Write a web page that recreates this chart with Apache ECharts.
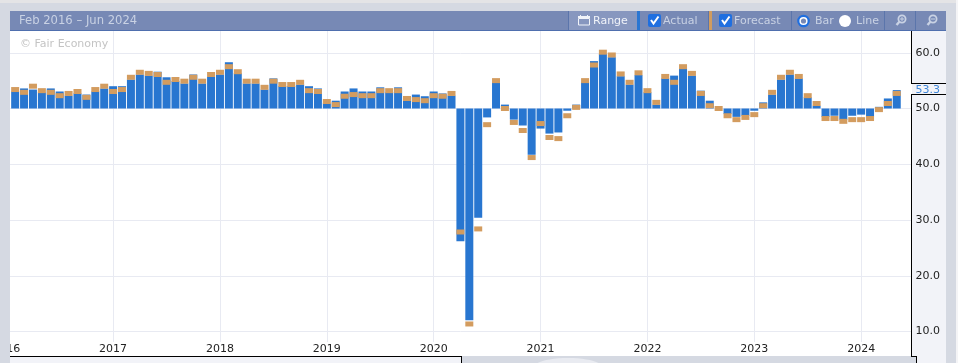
<!DOCTYPE html>
<html>
<head>
<meta charset="utf-8">
<style>html,body{margin:0;padding:0;background:#d5d9e2;overflow:hidden}#c{width:958px;height:363px}</style>
<script src="https://cdn.jsdelivr.net/npm/echarts@6/dist/echarts.min.js"></script>
</head>
<body>
<div id="c"></div>
<script>
const actual = [53.05,53.6,53.4,52.9,53.6,53.05,52.3,52.7,52.5,53.05,53.6,54.0,54.0,55.2,56.1,55.9,56.6,55.6,54.9,54.5,56.1,54.5,55.7,56.1,58.3,56.3,54.5,54.5,53.4,55.4,54.0,54.0,54.3,54.0,53.6,50.9,51.4,53.05,53.6,53.05,53.05,53.8,52.9,53.8,51.4,52.5,52.2,53.05,52.7,52.3,26.2,12.0,30.4,48.4,54.7,50.7,48.0,46.95,41.7,46.4,45.5,45.7,49.6,50.7,54.7,58.5,59.8,59.2,55.8,54.3,56.0,52.9,50.7,55.4,55.9,57.2,55.9,53.2,51.4,50.0,49.0,48.5,48.7,49.6,51.1,52.5,55.2,56.1,55.4,52.0,50.5,48.5,48.7,48.0,48.7,48.9,48.5,50.3,51.8,53.3];
const forecast = [53.4,52.9,54.0,53.2,52.9,52.3,52.7,53.05,52.0,53.4,54.0,53.05,53.4,55.6,56.5,56.3,56.1,54.7,55.2,54.9,55.6,54.9,56.1,56.5,57.5,56.6,54.9,54.9,53.8,54.9,54.3,54.3,54.7,53.2,53.05,51.25,50.7,52.2,52.5,52.3,52.3,53.2,53.2,53.2,51.8,51.6,51.4,52.3,52.2,52.7,27.85,11.35,28.4,47.1,55.0,50.0,47.5,46.05,41.2,47.3,44.8,44.6,48.7,50.2,55.0,57.8,60.1,59.6,56.2,54.7,56.4,53.2,51.1,55.75,54.7,57.5,56.3,52.7,50.5,50.0,48.7,48.0,48.4,48.9,50.5,52.9,55.6,56.5,55.75,52.3,50.9,48.2,48.2,47.7,48.0,48.0,48.2,49.8,50.9,52.7];
const yTicks = [10,20,30,40,50,60];
const latest = 53.3;
const baseline = 50;
const startYear = 2016;
const rangeLabel = 'Feb 2016 – Jun 2024';
const watermark = '© Fair Economy';
const FONT = '"DejaVu Sans", sans-serif';

const slots = 103;
const categories = [];
for (let i = 0; i < slots; i++) {
  const y = startYear + Math.floor(i / 12), m = i % 12 + 1;
  categories.push(y + '-' + String(m).padStart(2, '0'));
}
const pad = a => [null].concat(a, [null, null]);
const lower = pad(actual.map(v => Math.min(v, baseline)));
const delta = pad(actual.map(v => Math.abs(v - baseline)));
const isJan = (i, v) => v.endsWith('-01');

const GRAY = '#d5d9e2', LIGHT = '#f2f3f8', HEAD = '#7789b5', HTXT = '#c9d2e4', SEP = '#5b75ab';
const R = (x, y, w, h, fill, z) => ({type:'rect', silent:true, z:z||50, shape:{x,y,width:w,height:h}, style:{fill}});
const T = (x, y, text, fill, z, size) => ({type:'text', silent:true, z:z||70, x, y, style:{text, fill, font:(size||11)+'px ' + FONT, textVerticalAlign:'middle'}});
const check = (x) => [
  {type:'rect', silent:true, z:70, shape:{x, y:14, width:13, height:13, r:2}, style:{fill:'#1f6fe0'}},
  {type:'polyline', silent:true, z:71, shape:{points:[[x+3,20],[x+5.5,23.5],[x+10.5,16.5]]}, style:{stroke:'#fff', lineWidth:2, fill:null}}
];
const glass = (cx, plus) => {
  const c = [
    {type:'circle', silent:true, z:70, shape:{cx:cx+1, cy:19, r:3.6}, style:{stroke:HTXT, lineWidth:1.8, fill:null}},
    {type:'line', silent:true, z:70, shape:{x1:cx-1.6, y1:21.8, x2:cx-4.5, y2:25}, style:{stroke:HTXT, lineWidth:2.4}}
  ];
  if (plus) c.splice(1, 0, R(cx-1, 18.5, 4, 1, HTXT, 71), R(cx+0.5, 17, 1, 4, HTXT, 71));
  else c.splice(1, 0, R(cx-1, 18.5, 4, 1, HTXT, 71));
  return c;
};

const graphics = [
  R(0, 31, 958, 332, '#ffffff', -1),
  R(0, 0, 958, 3, '#e4e4e6', 50),
  R(0, 3, 958, 28, GRAY, 50),
  R(0, 31, 10, 332, GRAY, 50),
  R(912, 31, 34, 332, LIGHT, 50),
  R(946, 3, 10, 360, GRAY, 50),
  R(956, 0, 2, 363, '#f4f4f6', 50),
  R(10, 356, 451, 7, LIGHT, 50),
  R(461, 356, 451, 7, GRAY, 50),
  R(912, 356, 5, 7, GRAY, 50),
  R(10, 356, 452, 1, '#000', 52),
  R(461, 356, 1, 7, '#000', 52),
  R(911, 356, 6, 1, '#000', 52),
  R(916, 356, 1, 7, '#000', 52),
  {type:'ellipse', silent:true, z:51, shape:{cx:568, cy:367, rx:34, ry:9}, style:{fill:'#e9ebf1'}},
  R(911, 31, 1, 53, '#000', 52),
  R(911, 83, 35, 1, '#000', 52),
  R(911, 94, 35, 1, '#000', 52),
  R(911, 94, 1, 263, '#000', 52),
  R(10, 11, 936, 19, HEAD, 60),
  R(10, 30, 936, 1, '#4f6fae', 60),
  R(569, 11, 68, 19, '#8797bf', 61),
  R(568, 11, 1, 19, SEP, 62),
  R(637, 11, 3, 19, '#2a76d2', 62),
  R(708, 11, 1, 19, SEP, 62),
  R(709, 11, 3, 19, '#d19c5f', 62),
  R(791, 11, 1, 19, SEP, 62),
  R(884, 11, 1, 19, SEP, 62),
  R(915, 11, 1, 19, SEP, 62),
  T(19, 21, rangeLabel, HTXT, 70, 11.6),
  T(593, 21, 'Range', '#f0f3f9'),
  {type:'rect', silent:true, z:70, shape:{x:578.5, y:18.5, width:11, height:6.5}, style:{stroke:'#f0f3f9', lineWidth:1, fill:null}},
  R(578, 16, 12, 2, '#f0f3f9', 70),
  R(580, 15, 1, 2, '#f0f3f9', 70),
  R(587, 15, 1, 2, '#f0f3f9', 70),
  ...check(648),
  T(663, 21, 'Actual', HTXT),
  ...check(719),
  T(734, 21, 'Forecast', HTXT),
  {type:'circle', silent:true, z:70, shape:{cx:803.5, cy:21, r:5.2}, style:{fill:'#ffffff', stroke:'#1f6fe0', lineWidth:2.2}},
  {type:'circle', silent:true, z:71, shape:{cx:803.5, cy:21, r:2.6}, style:{fill:HEAD}},
  T(815, 21, 'Bar', HTXT),
  {type:'circle', silent:true, z:70, shape:{cx:845, cy:21, r:6}, style:{fill:'#ffffff'}},
  T(856, 21, 'Line', HTXT),
  ...glass(901, true),
  ...glass(932, false),
  T(20, 44, watermark, '#c4c4c4', 40)
];

const chart = echarts.init(document.getElementById('c'), null, {renderer:'canvas'});
const GRID_W = 8.905 * slots;
const Y_MIN = 50 - (342 - 108.5) / 5.575, Y_MAX = 50 + (108.5 - 31) / 5.575;
const yBase = {type:'value', min:Y_MIN, max:Y_MAX, scale:true};
chart.setOption({
  animation:false,
  backgroundColor:GRAY,
  graphic:{elements:graphics},
  grid:{left:1.8, top:31, width:GRID_W, height:311, containLabel:false, outerBoundsMode:'none'},
  xAxis:{type:'category', data:categories, boundaryGap:true,
    axisLine:{show:false},
    axisTick:{show:false, alignWithLabel:true, interval:isJan},
    axisLabel:{interval:isJan, formatter:v => v.slice(0,4), color:'#222', fontFamily:FONT, fontSize:11, margin:2, hideOverlap:false},
    splitLine:{show:true, alignWithLabel:true, interval:isJan, lineStyle:{color:'#e8eaf2', width:1}}
  },
  yAxis:[
    Object.assign({}, yBase, {position:'right', z:0,
      axisLine:{show:false}, axisTick:{show:false, customValues:yTicks}, axisLabel:{show:false},
      splitLine:{show:true, lineStyle:{color:'#e8eaf2', width:1}}}),
    Object.assign({}, yBase, {position:'right', z:65,
      axisLine:{show:false}, axisTick:{show:false}, splitLine:{show:false},
      axisLabel:{customValues:yTicks.concat([latest]), inside:false, margin:-3.5, align:'left',
        formatter:v => Number(v).toFixed(1), fontFamily:FONT, fontSize:11,
        color:v => Number(v) === latest ? '#3f86d8' : '#222'}})
  ],
  series:[
    {type:'bar', name:'Base', stack:'a', data:lower, barWidth:8, silent:true, z:2, itemStyle:{color:'transparent'}},
    {type:'bar', name:'Actual', stack:'a', data:delta, barWidth:8, silent:true, z:2, itemStyle:{color:'#2876d0'}},
    {type:'scatter', name:'Forecast', data:pad(forecast), symbol:'rect', symbolSize:[8,5], silent:true, z:3, itemStyle:{color:'#d39c5f', opacity:1}}
  ]
});
</script>
</body>
</html>
